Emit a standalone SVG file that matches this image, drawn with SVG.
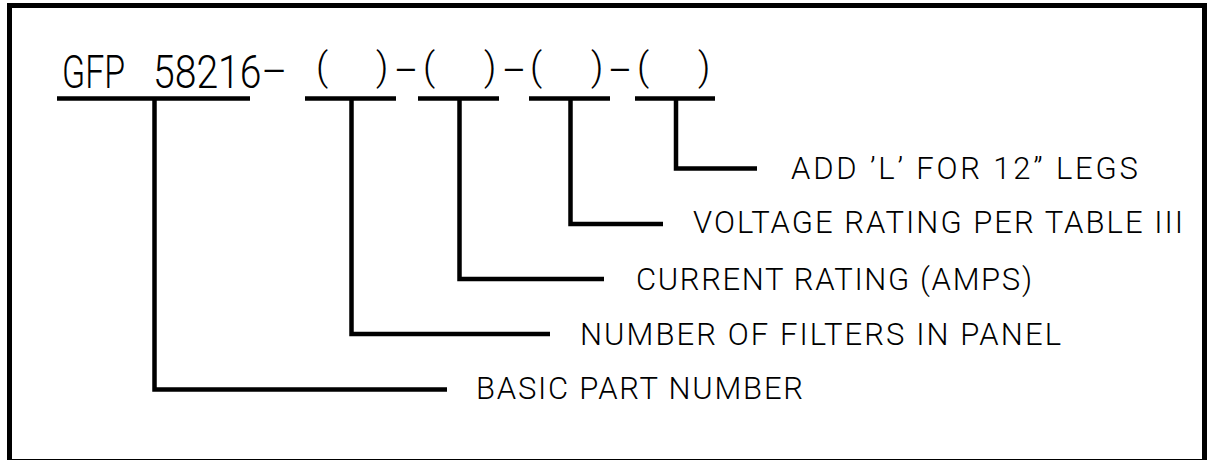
<svg xmlns="http://www.w3.org/2000/svg" width="1209" height="460" viewBox="0 0 1209 460">
<style>
.t{font-family:Roboto,"Liberation Sans",sans-serif;font-weight:300;fill:#000}
.lbl{font-size:31px}
.ttl{font-size:46px}
.par{font-size:38px}
.ln{stroke:#000;stroke-width:4.5;fill:none;stroke-linecap:butt;stroke-linejoin:miter}
</style>
<rect x="0" y="0" width="1209" height="460" fill="#fff"/>
<rect id="frame" x="9.5" y="5.5" width="1195" height="456" fill="none" stroke="#000" stroke-width="5"/>
<g id="title">
<text class="t ttl" x="62" y="88" textLength="63" lengthAdjust="spacingAndGlyphs">GFP</text>
<text class="t ttl" x="153" y="88" textLength="134" lengthAdjust="spacingAndGlyphs">58216–</text>
<text class="t par" x="316" y="80">(</text>
<text class="t par" x="376" y="80">)</text>
<text class="t ttl" x="394" y="87" textLength="24" lengthAdjust="spacingAndGlyphs">–</text>
<text class="t par" x="423" y="80">(</text>
<text class="t par" x="484" y="80">)</text>
<text class="t ttl" x="502" y="87" textLength="24" lengthAdjust="spacingAndGlyphs">–</text>
<text class="t par" x="530" y="80">(</text>
<text class="t par" x="591" y="80">)</text>
<text class="t ttl" x="608" y="87" textLength="24" lengthAdjust="spacingAndGlyphs">–</text>
<text class="t par" x="637" y="80">(</text>
<text class="t par" x="698" y="80">)</text>
</g>
<g id="connectors">
<line class="ln" x1="57" y1="98.5" x2="250" y2="98.5"/>
<line class="ln" x1="305" y1="98.5" x2="396" y2="98.5"/>
<line class="ln" x1="418" y1="98.5" x2="499" y2="98.5"/>
<line class="ln" x1="529" y1="98.5" x2="610" y2="98.5"/>
<line class="ln" x1="635" y1="98.5" x2="715" y2="98.5"/>
<path class="ln" d="M154.5 98.5 V389.5 H447"/>
<path class="ln" d="M351.5 98.5 V334 H550"/>
<path class="ln" d="M459.5 98.5 V279 H604"/>
<path class="ln" d="M570.5 98.5 V224 H663"/>
<path class="ln" d="M676 98.5 V168.5 H757"/>
</g>
<g id="label-legs"><text class="t lbl" x="791" y="179" textLength="347" lengthAdjust="spacing">ADD ’L’ FOR 12” LEGS</text></g>
<g id="label-voltage"><text class="t lbl" x="693" y="233" textLength="490" lengthAdjust="spacing">VOLTAGE RATING PER TABLE III</text></g>
<g id="label-current"><text class="t lbl" x="636" y="290" textLength="396" lengthAdjust="spacing">CURRENT RATING (AMPS)</text></g>
<g id="label-number"><text class="t lbl" x="580" y="345" textLength="481" lengthAdjust="spacing">NUMBER OF FILTERS IN PANEL</text></g>
<g id="label-basic"><text class="t lbl" x="476" y="399" textLength="327" lengthAdjust="spacing">BASIC PART NUMBER</text></g>
</svg>
